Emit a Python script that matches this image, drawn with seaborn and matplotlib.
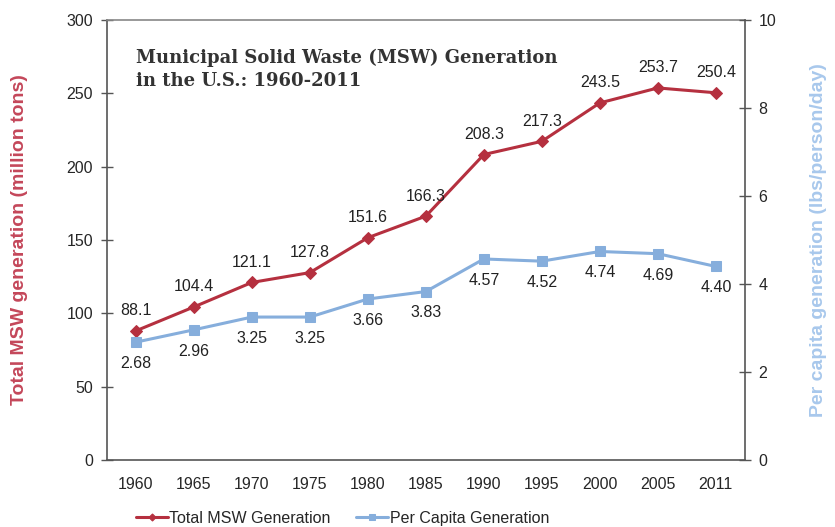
import numpy as np
import pandas as pd
import matplotlib.pyplot as plt
import seaborn as sns

# Data
years = ['1960', '1965', '1970', '1975', '1980', '1985', '1990', '1995', '2000', '2005', '2011']
total_msw = [88.1, 104.4, 121.1, 127.8, 151.6, 166.3, 208.3, 217.3, 243.5, 253.7, 250.4]
per_capita = [2.68, 2.96, 3.25, 3.25, 3.66, 3.83, 4.57, 4.52, 4.74, 4.69, 4.40]

red = '#B5303F'
blue = '#86AEDC'

df = pd.DataFrame({'pos': np.arange(len(years)), 'year': years,
                   'total': total_msw, 'per_capita': per_capita})

sns.set_style('white')
plt.rcParams['font.family'] = ['Liberation Sans', 'DejaVu Sans']

fig = plt.figure(figsize=(8.35, 5.27), dpi=100)
ax = fig.add_axes([0.128, 0.127, 0.764, 0.835])
ax2 = ax.twinx()

sns.lineplot(data=df, x='pos', y='total', ax=ax, color=red, marker='D',
             markersize=6, linewidth=2.2, markeredgecolor=red,
             label='Total MSW Generation', legend=False)
sns.lineplot(data=df, x='pos', y='per_capita', ax=ax2, color=blue, marker='s',
             markersize=7, linewidth=2.2, markeredgecolor=blue,
             label='Per Capita Generation', legend=False)

# value labels
for x, v in zip(df['pos'], total_msw):
    ax.annotate(f'{v:.1f}', (x, v), xytext=(0, 9), textcoords='offset points',
                ha='center', va='bottom', fontsize=11.5, color='#222222')
for x, v in zip(df['pos'], per_capita):
    ax2.annotate(f'{v:.2f}', (x, v), xytext=(0, -10), textcoords='offset points',
                 ha='center', va='top', fontsize=11.5, color='#222222')

ax.set_xlim(-0.5, len(years) - 0.5)
ax.set_ylim(0, 300)
ax2.set_ylim(0, 10)
ax.set_yticks(range(0, 301, 50))
ax2.set_yticks(range(0, 11, 2))

ax.set_xticks(df['pos'])
ax.set_xticklabels(years)
ax.set_xticks(np.arange(-0.5, len(years), 1), minor=True)
ax.tick_params(axis='x', which='major', length=0, pad=12, labelsize=11.5)
ax.tick_params(axis='x', which='minor', direction='in', length=5, width=1, color='#555555')
ax.tick_params(axis='y', direction='inout', length=8, width=1, color='#555555',
               labelsize=11.5, pad=6)
ax2.tick_params(axis='y', direction='inout', length=8, width=1, color='#555555',
                labelsize=11.5, pad=6)

for a in (ax, ax2):
    for s in a.spines.values():
        s.set_visible(False)
    a.grid(False)
for side in ('left', 'bottom'):
    ax.spines[side].set_visible(True)
    ax.spines[side].set_color('#555555')
    ax.spines[side].set_linewidth(1.2)
ax2.spines['right'].set_visible(True)
ax2.spines['right'].set_color('#555555')
ax2.spines['right'].set_linewidth(1.2)
ax.spines['top'].set_visible(True)
ax.spines['top'].set_color('#888888')
ax.spines['top'].set_linewidth(1.2)

ax.set_xlabel('')
ax.set_ylabel('Total MSW generation (million tons)', color='#C4475A',
              fontsize=14, fontweight='bold')
ax2.set_ylabel('Per capita generation (lbs/person/day)', color='#A8C8EC',
               fontsize=14, fontweight='bold', labelpad=24)
ax.yaxis.set_label_coords(-0.124, 0.5)

ax.text(0.045, 0.935, 'Municipal Solid Waste (MSW) Generation\nin the U.S.: 1960-2011',
        transform=ax.transAxes, ha='left', va='top', fontsize=13,
        fontweight='bold', family='DejaVu Serif', color='#333333', linespacing=1.35)

h1, l1 = ax.get_legend_handles_labels()
h2, l2 = ax2.get_legend_handles_labels()
fig.legend(h1 + h2, l1 + l2, loc='lower center', bbox_to_anchor=(0.41, -0.025),
           ncol=2, frameon=False, fontsize=11.5, handlelength=2.0,
           handletextpad=0.1, columnspacing=1.6, markerscale=0.6)

fig.savefig('out.png', dpi=100)
